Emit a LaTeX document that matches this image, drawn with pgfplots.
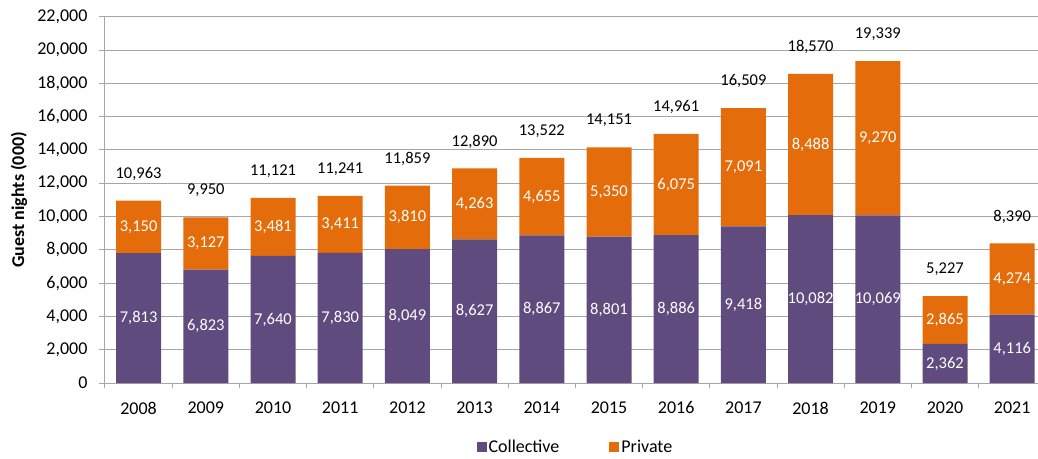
\documentclass[border=0pt]{standalone}
\usepackage{pgfplots}
\pgfplotsset{compat=1.18}
\usepackage{pgfplotstable}
\usepackage{fontspec}
\setmainfont{Carlito}
\definecolor{coll}{HTML}{5F4B7E}
\definecolor{priv}{HTML}{E46C0A}
\definecolor{gridc}{HTML}{A6A6A6}
\newcommand{\ff}{\fontsize{18}{21}\selectfont}
\newcommand{\fd}{\fontsize{16.5}{19}\selectfont}
\pgfplotstableread{
x year col priv tot
0 2008 7813 3150 10963
1 2009 6823 3127 9950
2 2010 7640 3481 11121
3 2011 7830 3411 11241
4 2012 8049 3810 11859
5 2013 8627 4263 12890
6 2014 8867 4655 13522
7 2015 8801 5350 14151
8 2016 8886 6075 14961
9 2017 9418 7091 16509
10 2018 10082 8488 18570
11 2019 10069 9270 19339
12 2020 2362 2865 5227
13 2021 4116 4274 8390
}\data
\pgfplotsset{common/.style={
  at={(0pt,0pt)}, anchor=south west,
  scale only axis, width=940.8pt, height=366.5pt,
  xmin=-0.5, xmax=13.5, ymin=0, ymax=22000,
  scaled ticks=false,
  /pgf/number format/fixed,
  /pgf/number format/1000 sep={,},
  /pgf/number format/assume math mode=true,
  tick label style={font=\ff},
  label style={font=\ff},
  legend style={font=\ff},
}}
\begin{document}
\begin{tikzpicture}[font=\ff]
\useasboundingbox (-105pt,-75pt) rectangle (933pt,383.2pt);
\begin{axis}[common,
  ybar stacked, bar width=45pt,
  ytick={0,2000,...,22000},
  xtick={0,...,13},
  xticklabels={2008,2009,2010,2011,2012,2013,2014,2015,2016,2017,2018,2019,2020,2021},
  minor xtick={-0.5,0.5,...,13.5},
  ymajorgrids, grid style={gridc, line width=1pt},
  axis line style={gridc, line width=1pt},
  axis x line*=bottom, axis y line*=left,
  tick align=outside, major tick length=6pt, minor tick length=5pt,
  every major x tick/.append style={draw=none},
  every minor x tick/.append style={gridc, line width=1pt},
  every major y tick/.append style={gridc, line width=1pt},
  yticklabel style={black, xshift=-8pt},
  xticklabel style={black, yshift=-9pt},
  ylabel={\textbf{Guest nights (000)}},
  ylabel style={black, at={(rel axis cs:0,0.5)}, anchor=center, yshift=86pt},
  legend style={at={(0.5,-0.175)}, anchor=center, draw=none, legend columns=2,
    /tikz/every even column/.append style={column sep=48pt}},
  legend image code/.code={\fill[#1] (0pt,-5pt) rectangle (10pt,5pt);},
]
\addplot[fill=coll, draw=none] table[x=x,y=col]{\data};
\addplot[fill=priv, draw=none] table[x=x,y=priv]{\data};
\legend{Collective, Private}
\end{axis}
\begin{axis}[common, hide axis, point meta=explicit]
\addplot[only marks, mark=none, nodes near coords,
  nodes near coords style={white, anchor=center, font=\fd}]
  table[x=x, y expr=\thisrow{col}/2, meta=col]{\data};
\addplot[only marks, mark=none, nodes near coords,
  nodes near coords style={white, anchor=center, font=\fd}]
  table[x=x, y expr=\thisrow{col}+\thisrow{priv}/2, meta=priv]{\data};
\addplot[only marks, mark=none, nodes near coords,
  nodes near coords style={black, anchor=center, yshift=27pt, font=\fd}]
  table[x=x, y=tot, meta=tot]{\data};
\end{axis}
\end{tikzpicture}
\end{document}
